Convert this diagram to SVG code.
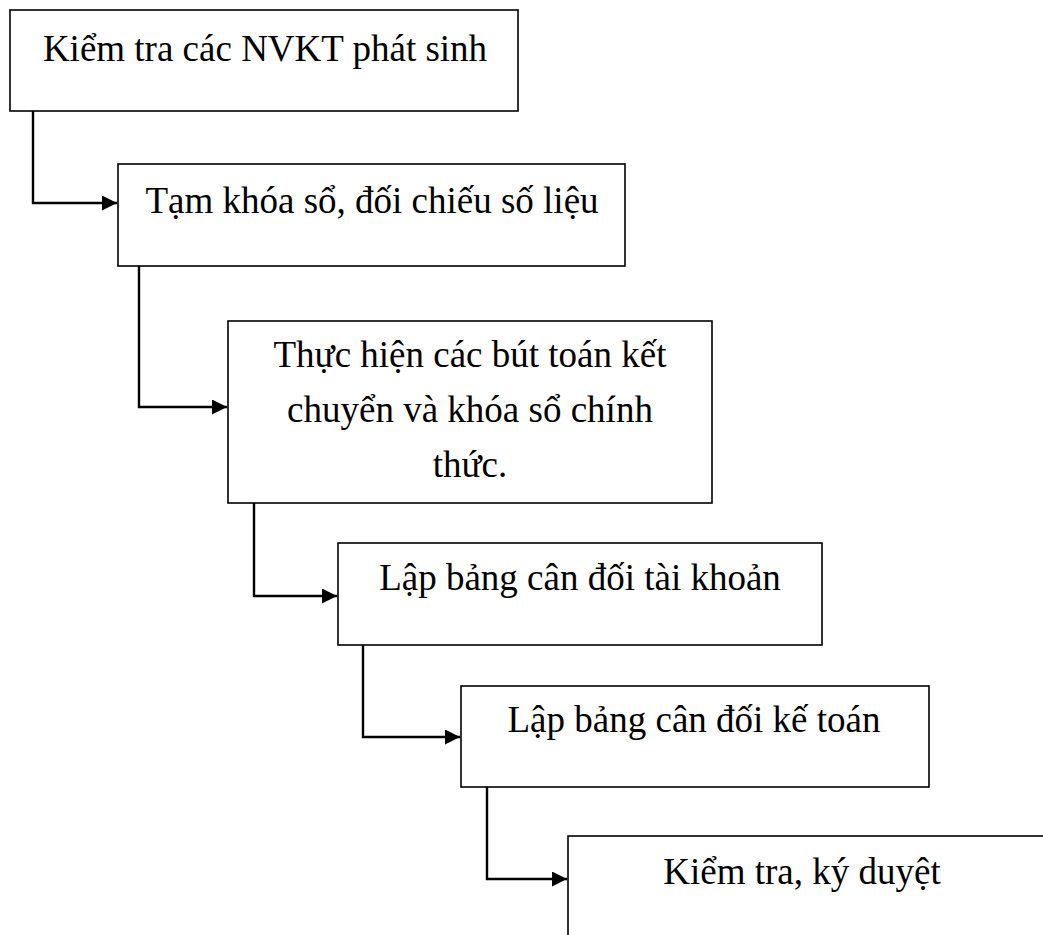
<svg xmlns="http://www.w3.org/2000/svg" width="1043" height="935" viewBox="0 0 1043 935">
  <style>
    .box { fill: #ffffff; stroke: #000000; stroke-width: 1.6; }
    .lbl { font-family: "Liberation Serif", "Times New Roman", serif; font-size: 37px; fill: #000000; text-anchor: middle; }
    .conn { fill: none; stroke: #000000; stroke-width: 2.4; stroke-linejoin: miter; }
  </style>
  <defs>
    <marker id="arrow" markerUnits="userSpaceOnUse" markerWidth="16" markerHeight="15" refX="15" refY="7.5" orient="auto">
      <path d="M0,0 L15,7.5 L0,15 Z" fill="#000000"/>
    </marker>
  </defs>
  <rect width="1043" height="935" fill="#ffffff"/>

  <g id="connectors">
    <polyline class="conn" points="33,111 33,203 117,203" marker-end="url(#arrow)"/>
    <polyline class="conn" points="139,266 139,407 227,407" marker-end="url(#arrow)"/>
    <polyline class="conn" points="254,503 254,596 337,596" marker-end="url(#arrow)"/>
    <polyline class="conn" points="363,645 363,737 460,737" marker-end="url(#arrow)"/>
    <polyline class="conn" points="487,787 487,879 567,879" marker-end="url(#arrow)"/>
  </g>

  <g id="node1">
    <rect class="box" x="10" y="10" width="508" height="101"/>
    <text class="lbl" x="265" y="61">Kiểm tra các NVKT phát sinh</text>
  </g>
  <g id="node2">
    <rect class="box" x="118" y="164" width="507" height="102"/>
    <text class="lbl" x="372" y="213">Tạm khóa sổ, đối chiếu số liệu</text>
  </g>
  <g id="node3">
    <rect class="box" x="228" y="321" width="484" height="182"/>
    <text class="lbl" x="470" y="367">Thực hiện các bút toán kết</text>
    <text class="lbl" x="470" y="422">chuyển và khóa sổ chính</text>
    <text class="lbl" x="470" y="477">thức.</text>
  </g>
  <g id="node4">
    <rect class="box" x="338" y="543" width="484" height="102"/>
    <text class="lbl" x="580" y="590">Lập bảng cân đối tài khoản</text>
  </g>
  <g id="node5">
    <rect class="box" x="461" y="686" width="468" height="101"/>
    <text class="lbl" x="694" y="732">Lập bảng cân đối kế toán</text>
  </g>
  <g id="node6">
    <rect class="box" x="568" y="836" width="490" height="140"/>
    <text class="lbl" x="802" y="884">Kiểm tra, ký duyệt</text>
  </g>
</svg>
